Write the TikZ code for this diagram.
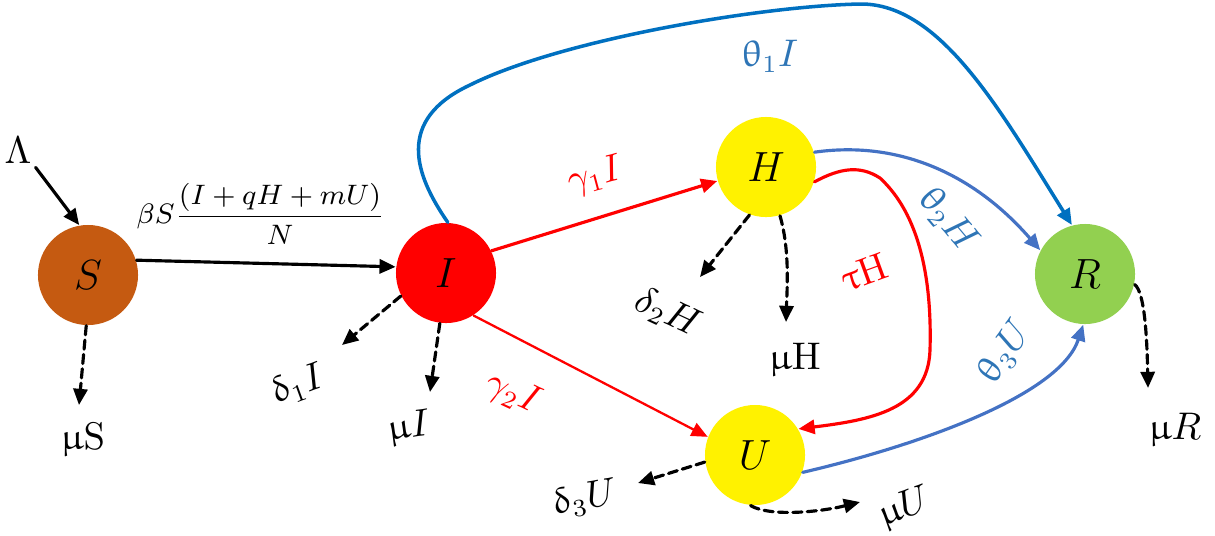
\documentclass[tikz,border=0pt]{standalone}
\usepackage{upgreek}
\usetikzlibrary{arrows.meta}
\definecolor{sbrown}{HTML}{C55A11}
\definecolor{rgreen}{HTML}{92D050}
\definecolor{dblue}{HTML}{0070C0}
\definecolor{lblue}{HTML}{4472C4}
\definecolor{tblue}{HTML}{2E75B6}
\begin{document}
\begin{tikzpicture}[x=0.01cm,y=-0.01cm,line cap=round,line join=round,
  comp/.style={circle,inner sep=0pt,minimum size=1cm,font=\fontsize{13}{15}\selectfont},
  lbl/.style={inner sep=1pt,font=\fontsize{10.5}{12}\selectfont},
  tip/.style={-{Triangle[length=4.6pt,width=4pt]}},
  flow/.style={tip,line width=0.9pt},
  loss/.style={tip,line width=0.9pt,dash pattern=on 2.6pt off 1.5pt}]
  \useasboundingbox (0,0) rectangle (1215,535);
  % compartments
  \node[comp,fill=sbrown] (S) at (88,275) {$S$};
  \node[comp,fill=red] (I) at (446,273) {$I$};
  \node[comp,fill=yellow] (H) at (766,167) {$H$};
  \node[comp,fill=yellow] (U) at (755,455) {$U$};
  \node[comp,fill=rgreen] (R) at (1085,274) {$R$};
  % free ends of the loss arrows
  \coordinate (tipS) at (79,405);
  \coordinate (tipdI) at (342,345);
  \coordinate (tipmI) at (430,392);
  \coordinate (tipdH) at (700,277);
  \coordinate (tipmH) at (786,322);
  \coordinate (tipdU) at (638,483);
  \coordinate (tipmU) at (860,502);
  \coordinate (tipR) at (1148,388);
  % recruitment and infection
  \node[lbl] (lam) at (18,150) {$\Lambda$};
  \draw[flow] (lam.south east) -- (S.100);
  \draw[flow] (S.17) -- (I.173);
  \node[lbl,font=\fontsize{8}{10}\selectfont] (force) at (261,214) {$\displaystyle\beta S\frac{(I+qH+mU)}{N}$};
  % I to H, U
  \draw[flow,red] (I.26) -- (H.196);
  \node[lbl,red,rotate=15] (g1) at (595,176) {$\gamma_1 I$};
  \draw[tip,red,line width=0.65pt] (I.-57) -- (U.159);
  \node[lbl,red,rotate=-25] (g2) at (513,394) {$\gamma_2 I$};
  % recovery
  \draw[flow,dblue,line width=1pt] (I.88) .. controls (415,175) and (395,120) .. (470,85)
    .. controls (560,40) and (760,6) .. (860,4)
    .. controls (940,3) and (1000,110) .. (R.105);
  \node[lbl,tblue] (t1) at (770,56) {$\uptheta_1 I$};
  \draw[flow,lblue] (H.17) .. controls (900,140) and (975,175) .. (R.152);
  \node[lbl,tblue,rotate=-50] (t2) at (948,220) {$\uptheta_2 H$};
  \draw[flow,lblue] (U.-20) .. controls (920,445) and (1060,395) .. (R.-92);
  \node[lbl,tblue,rotate=55] (t3) at (1005,352) {$\uptheta_3 U$};
  \draw[flow,red] (H.-17) .. controls (840,168) and (860,165) .. (880,178)
    .. controls (920,215) and (932,280) .. (930,350)
    .. controls (928,410) and (870,420) .. (U.31);
  \node[lbl,red,rotate=20] (tau) at (864,272) {$\uptau\mathrm{H}$};
  % natural death and disease death
  \draw[loss] (S.-92) -- (tipS);
  \node[lbl] (muS) at (83,440) {$\upmu\mathrm{S}$};
  \draw[loss] (I.207) -- (tipdI);
  \node[lbl,rotate=20] (d1) at (298,385) {$\updelta_1 I$};
  \draw[loss] (I.-97) -- (tipmI);
  \node[lbl,rotate=8] (muI) at (409,428) {$\upmu I$};
  \draw[loss] (H.251) -- (tipdH);
  \node[lbl,rotate=-25] (d2) at (668,313) {$\delta_2 H$};
  \draw[loss] (H.-74) .. controls (790,250) and (787,290) .. (tipmH);
  \node[lbl] (muH) at (795,360) {$\upmu\mathrm{H}$};
  \draw[loss] (U.188) -- (tipdU);
  \node[lbl,rotate=10] (d3) at (585,499) {$\updelta_3 U$};
  \draw[loss] (U.-95) .. controls (770,517) and (820,512) .. (tipmU);
  \node[lbl,rotate=20] (muU) at (905,508) {$\upmu U$};
  \draw[loss] (R.-12) .. controls (1145,292) and (1147,340) .. (tipR);
  \node[lbl] (muR) at (1175,430) {$\upmu R$};
\end{tikzpicture}
\end{document}
